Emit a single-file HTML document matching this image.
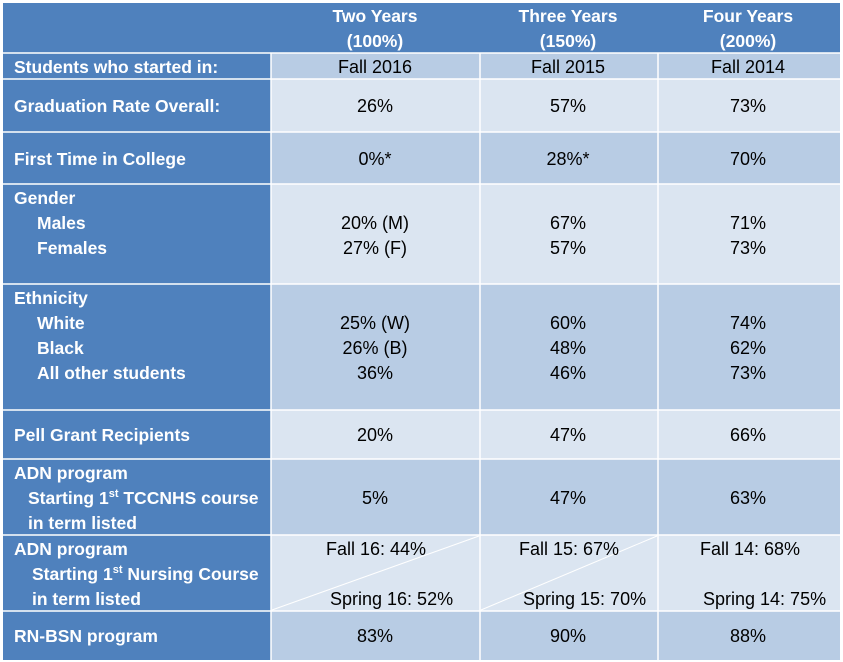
<!DOCTYPE html>
<html><head><meta charset="utf-8"><style>
body{margin:0;width:843px;height:662px;background:#fff;position:relative;overflow:hidden;font-family:"Liberation Sans",sans-serif;font-size:18px}
.c{position:absolute;box-sizing:border-box}
.h{background:#4f81bd}
.d{background:#b8cce4}
.l{background:#dbe5f1}
.t{position:absolute;white-space:nowrap;line-height:25px}
.w{color:#fff;font-weight:bold;font-size:17.5px}
.k{color:#000;text-align:center;transform:translateX(-50%)}
sup{font-size:11px;line-height:0}
</style></head><body>
<div class="c h" style="left:3px;top:3px;width:837px;height:50px"></div>
<div class="c h" style="left:3px;top:53px;width:268px;height:607px"></div>
<div class="c d" style="left:271px;top:53px;width:569px;height:26px"></div>
<div class="c l" style="left:271px;top:79px;width:569px;height:53px"></div>
<div class="c d" style="left:271px;top:132px;width:569px;height:52px"></div>
<div class="c l" style="left:271px;top:184px;width:569px;height:100px"></div>
<div class="c d" style="left:271px;top:284px;width:569px;height:126px"></div>
<div class="c l" style="left:271px;top:410px;width:569px;height:49px"></div>
<div class="c d" style="left:271px;top:459px;width:569px;height:76px"></div>
<div class="c l" style="left:271px;top:535px;width:569px;height:76px"></div>
<div class="c d" style="left:271px;top:611px;width:569px;height:49px"></div>
<svg class="c" style="left:0;top:0" width="843" height="662">
<g stroke="#fff" stroke-width="1.5">
<line x1="3" y1="53" x2="840" y2="53"/>
<line x1="3" y1="79" x2="840" y2="79"/>
<line x1="3" y1="132" x2="840" y2="132"/>
<line x1="3" y1="184" x2="840" y2="184"/>
<line x1="3" y1="284" x2="840" y2="284"/>
<line x1="3" y1="410" x2="840" y2="410"/>
<line x1="3" y1="459" x2="840" y2="459"/>
<line x1="3" y1="535" x2="840" y2="535"/>
<line x1="3" y1="611" x2="840" y2="611"/>
<line x1="271" y1="53" x2="271" y2="660"/>
<line x1="480" y1="53" x2="480" y2="660"/>
<line x1="658" y1="53" x2="658" y2="660"/>
</g>
<g stroke="#fff" stroke-width="1">
<line x1="272" y1="610" x2="479" y2="536"/>
<line x1="481" y1="610" x2="657" y2="536"/>
</g>
</svg>
<div class="t w" style="left:375px;top:4px;transform:translateX(-50%);text-align:center">Two Years<br>(100%)</div>
<div class="t w" style="left:568px;top:4px;transform:translateX(-50%);text-align:center">Three Years<br>(150%)</div>
<div class="t w" style="left:748px;top:4px;transform:translateX(-50%);text-align:center">Four Years<br>(200%)</div>
<div class="t w" style="left:14px;top:55px">Students who started in:</div>
<div class="t w" style="left:14px;top:94px">Graduation Rate Overall:</div>
<div class="t w" style="left:14px;top:147px">First Time in College</div>
<div class="t w" style="left:14px;top:186px">Gender<br><span style="padding-left:23px">Males</span><br><span style="padding-left:23px">Females</span></div>
<div class="t w" style="left:14px;top:286px">Ethnicity<br><span style="padding-left:23px">White</span><br><span style="padding-left:23px">Black</span><br><span style="padding-left:23px">All other students</span></div>
<div class="t w" style="left:14px;top:423px">Pell Grant Recipients</div>
<div class="t w" style="left:14px;top:461px">ADN program<br><span style="padding-left:14px">Starting 1<sup>st</sup> TCCNHS course</span><br><span style="padding-left:14px">in term listed</span></div>
<div class="t w" style="left:14px;top:537px">ADN program<br><span style="padding-left:18px">Starting 1<sup>st</sup> Nursing Course</span><br><span style="padding-left:18px">in term listed</span></div>
<div class="t w" style="left:14px;top:624px">RN-BSN program</div>
<div class="t k" style="left:375px;top:55px">Fall 2016</div>
<div class="t k" style="left:375px;top:94px">26%</div>
<div class="t k" style="left:375px;top:147px">0%*</div>
<div class="t k" style="left:375px;top:211px">20% (M)<br>27% (F)</div>
<div class="t k" style="left:375px;top:311px">25% (W)<br>26% (B)<br>36%</div>
<div class="t k" style="left:375px;top:423px">20%</div>
<div class="t k" style="left:375px;top:486px">5%</div>
<div class="t k" style="left:375px;top:624px">83%</div>
<div class="t k" style="left:568px;top:55px">Fall 2015</div>
<div class="t k" style="left:568px;top:94px">57%</div>
<div class="t k" style="left:568px;top:147px">28%*</div>
<div class="t k" style="left:568px;top:211px">67%<br>57%</div>
<div class="t k" style="left:568px;top:311px">60%<br>48%<br>46%</div>
<div class="t k" style="left:568px;top:423px">47%</div>
<div class="t k" style="left:568px;top:486px">47%</div>
<div class="t k" style="left:568px;top:624px">90%</div>
<div class="t k" style="left:748px;top:55px">Fall 2014</div>
<div class="t k" style="left:748px;top:94px">73%</div>
<div class="t k" style="left:748px;top:147px">70%</div>
<div class="t k" style="left:748px;top:211px">71%<br>73%</div>
<div class="t k" style="left:748px;top:311px">74%<br>62%<br>73%</div>
<div class="t k" style="left:748px;top:423px">66%</div>
<div class="t k" style="left:748px;top:486px">63%</div>
<div class="t k" style="left:748px;top:624px">88%</div>
<div class="t" style="left:326px;top:537px">Fall 16: 44%</div>
<div class="t" style="left:330px;top:587px">Spring 16: 52%</div>
<div class="t" style="left:519px;top:537px">Fall 15: 67%</div>
<div class="t" style="left:523px;top:587px">Spring 15: 70%</div>
<div class="t" style="left:700px;top:537px">Fall 14: 68%</div>
<div class="t" style="left:703px;top:587px">Spring 14: 75%</div>
</body></html>
